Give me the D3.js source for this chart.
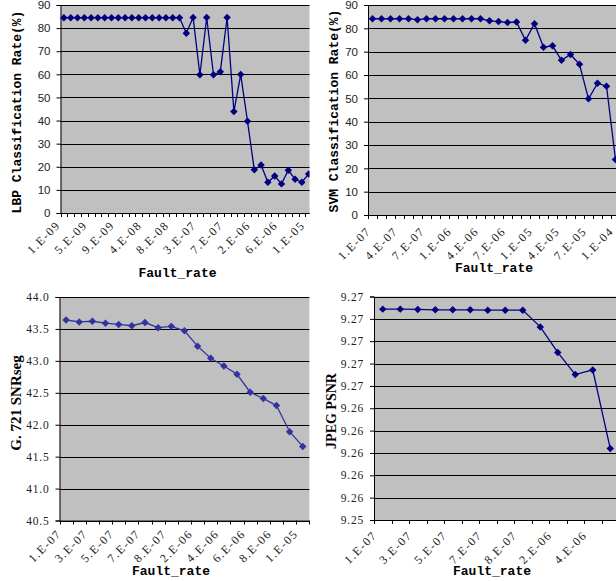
<!DOCTYPE html>
<html>
<head>
<meta charset="utf-8">
<script src="https://cdn.jsdelivr.net/npm/d3@7"></script>
<style>
  body { margin: 0; background: #fff; }
  svg { display: block; }
</style>
</head>
<body>
<div id="chart"></div>
<script>
// categories (fault rates)
var lbpCats = ["1.E-09","2.E-09","3.E-09","4.E-09","5.E-09","6.E-09","7.E-09","8.E-09","9.E-09",
  "1.E-08","2.E-08","3.E-08","4.E-08","5.E-08","6.E-08","7.E-08","8.E-08","9.E-08",
  "1.E-07","2.E-07","3.E-07","4.E-07","5.E-07","6.E-07","7.E-07","8.E-07","9.E-07",
  "1.E-06","2.E-06","3.E-06","4.E-06","5.E-06","6.E-06","7.E-06","8.E-06","9.E-06",
  "1.E-05"];
var svmCats = ["1.E-07","2.E-07","3.E-07","4.E-07","5.E-07","6.E-07","7.E-07","8.E-07","9.E-07",
  "1.E-06","2.E-06","3.E-06","4.E-06","5.E-06","6.E-06","7.E-06","8.E-06","9.E-06",
  "1.E-05","2.E-05","3.E-05","4.E-05","5.E-05","6.E-05","7.E-05","8.E-05","9.E-05",
  "1.E-04"];
var codecCats = ["1.E-07","2.E-07","3.E-07","4.E-07","5.E-07","6.E-07","7.E-07","7.E-07","8.E-07",
  "1.E-06","2.E-06","3.E-06","4.E-06","5.E-06","6.E-06","7.E-06","8.E-06","9.E-06","1.E-05"];

// series values
var lbpRate = [84.5,84.5,84.5,84.5,84.5,84.5,84.5,84.5,84.5,84.5,84.5,84.5,84.5,84.5,84.5,84.5,84.5,84.5,
  77.8,84.6,59.8,84.6,59.8,61.1,84.6,43.9,59.9,39.7,18.7,20.8,13.3,16.0,12.6,18.5,14.6,13.3,16.9];
var svmRate = [84.1,84.1,84.1,84.1,84.1,83.7,84.1,84.1,84.1,84.1,84.1,84.1,84.1,83.2,82.9,82.5,82.7,
  74.9,82.0,71.9,72.5,66.3,68.8,64.6,49.8,56.5,55.2,23.8];
var g721Snr = [43.64,43.61,43.62,43.59,43.57,43.55,43.60,43.52,43.54,43.47,43.23,43.04,42.92,42.79,
  42.51,42.41,42.30,41.89,41.66];
var jpegPsnr = [9.27287,9.27287,9.27284,9.27281,9.27281,9.27281,9.27278,9.27278,9.27278,9.27128,
  9.26899,9.26701,9.26743,9.26039];

// y ticks
var rateTicks = d3.range(0, 91, 10);
var snrTicks = d3.range(40.5, 44.01, 0.5);
var psnrTicks = d3.range(0, 11).map(function(i) { return 9.254 + i * 0.002; });

var svg = d3.select("#chart").append("svg")
  .attr("width", 616)
  .attr("height", 581);

var panels = [
  { id: "p1", clip: [0, 0, 309.5, 290], left: 60.5, top: 5, bottom: 213, band: 6.8,
    cats: lbpCats, values: lbpRate, yDomain: [0, 90], ticks: rateTicks, fmt: d3.format("d"),
    tickFont: "Liberation Sans", every: 4, color: "#000080", lab: [-6, 10],
    yTitle: "LBP Classification Rate(%)", yTitleFont: "Liberation Mono", yTitleSize: 13, yx: 17, yy: 112,
    xx: 177.5, xy: 277 },
  { id: "p2", clip: [309.5, 0, 306.5, 290], left: 368, top: 5, bottom: 215, band: 9,
    cats: svmCats, values: svmRate, yDomain: [0, 90], ticks: rateTicks, fmt: d3.format("d"),
    tickFont: "Liberation Sans", every: 3, color: "#000080", lab: [-4, 14],
    yTitle: "SVM Classification Rate(%)", yTitleFont: "Liberation Mono", yTitleSize: 13, yx: 334, yy: 111,
    xx: 494, xy: 272 },
  { id: "p3", clip: [0, 290, 310, 291], left: 59.5, top: 297, bottom: 520.5, band: 13.15,
    cats: codecCats, values: g721Snr, yDomain: [40.5, 44], ticks: snrTicks, fmt: d3.format(".1f"),
    tickFont: "Liberation Serif", every: 2, color: "#3333a0", lab: [-7, 11],
    yTitle: "G. 721 SNRseg", yTitleFont: "Liberation Serif", yTitleSize: 15, yx: 16, yy: 403,
    xx: 171, xy: 575 },
  { id: "p4", clip: [310, 290, 306, 291], left: 374, top: 296.5, bottom: 520, band: 17.5,
    cats: codecCats, values: jpegPsnr, yDomain: [9.254, 9.274], ticks: psnrTicks, fmt: d3.format(".2f"),
    tickFont: "Liberation Serif", every: 2, color: "#000080", lab: [-8, 13],
    yTitle: "JPEG PSNR", yTitleFont: "Liberation Serif", yTitleSize: 14, yx: 331, yy: 411,
    xx: 492, xy: 575 }
];

var defs = svg.append("defs");
var diamond = d3.symbol().type(d3.symbolSquare).size(28);

panels.forEach(function(p) {
  defs.append("clipPath").attr("id", "clip-" + p.id)
    .append("rect")
    .attr("x", p.clip[0]).attr("y", p.clip[1])
    .attr("width", p.clip[2]).attr("height", p.clip[3]);

  var g = svg.append("g").attr("clip-path", "url(#clip-" + p.id + ")");
  var clipRight = p.clip[0] + p.clip[2];

  var n = p.cats.length;
  var xScale = d3.scaleBand()
    .domain(d3.range(n))
    .range([p.left, p.left + n * p.band]);

  var yScale = d3.scaleLinear()
    .domain(p.yDomain)
    .range([p.bottom, p.top]);

  // plot area
  g.append("rect")
    .attr("x", p.left).attr("y", p.top)
    .attr("width", n * p.band).attr("height", p.bottom - p.top)
    .attr("fill", "#c0c0c0");

  // grid lines
  g.append("g").selectAll("line")
    .data(p.ticks)
    .enter().append("line")
    .attr("x1", p.left).attr("x2", p.left + n * p.band)
    .attr("y1", function(d) { return Math.round(yScale(d)) + 0.5; })
    .attr("y2", function(d) { return Math.round(yScale(d)) + 0.5; })
    .attr("stroke", "#000").attr("stroke-width", 1);

  // y axis
  var leftAxis = d3.axisLeft(yScale)
    .tickValues(p.ticks)
    .tickFormat(p.fmt)
    .tickSize(4)
    .tickPadding(6);

  var yAxis = g.append("g")
    .attr("transform", "translate(" + p.left + ",0)")
    .call(leftAxis);
  yAxis.select(".domain").attr("stroke", "#000");
  yAxis.selectAll("text")
    .attr("font-family", p.tickFont)
    .attr("font-size", "11.5px")
    .attr("letter-spacing", p.tickFont === "Liberation Serif" ? "0.8px" : "0px")
    .attr("fill", "#222");

  // x axis: ticks on category boundaries
  var axisY = p.bottom;
  g.append("line")
    .attr("x1", p.left).attr("x2", p.left + n * p.band)
    .attr("y1", axisY + 0.5).attr("y2", axisY + 0.5)
    .attr("stroke", "#000");

  g.append("g").selectAll("line")
    .data(d3.range(n + 1))
    .enter().append("line")
    .attr("x1", function(i) { return Math.round(p.left + i * p.band) + 0.5; })
    .attr("x2", function(i) { return Math.round(p.left + i * p.band) + 0.5; })
    .attr("y1", axisY).attr("y2", axisY + 4)
    .attr("stroke", "#000");

  // rotated category labels, only those whose tick lies inside the panel
  var labelIdx = d3.range(0, n, p.every).filter(function(i) {
    return xScale(i) + xScale.bandwidth() / 2 < clipRight;
  });

  g.append("g").selectAll("text")
    .data(labelIdx)
    .enter().append("text")
    .attr("transform", function(i) {
      var cx = xScale(i) + xScale.bandwidth() / 2;
      return "translate(" + (cx + p.lab[0]) + "," + (axisY + p.lab[1]) + ") rotate(-45)";
    })
    .attr("text-anchor", "end")
    .attr("dy", "0.35em")
    .attr("font-family", "Liberation Serif")
    .attr("font-size", "12px")
    .attr("letter-spacing", "1.4px")
    .attr("fill", "#222")
    .text(function(i) { return p.cats[i]; });

  // series line
  var line = d3.line()
    .x(function(d, i) { return xScale(i) + xScale.bandwidth() / 2; })
    .y(function(d) { return yScale(d); });

  g.append("path")
    .datum(p.values)
    .attr("d", line)
    .attr("fill", "none")
    .attr("stroke", p.color)
    .attr("stroke-width", 1.3);

  g.append("g").selectAll("path")
    .data(p.values)
    .enter().append("path")
    .attr("d", diamond)
    .attr("transform", function(d, i) {
      return "translate(" + (xScale(i) + xScale.bandwidth() / 2) + "," + yScale(d) + ") rotate(45)";
    })
    .attr("fill", p.color);

  // axis titles
  g.append("text")
    .attr("transform", "translate(" + p.yx + "," + p.yy + ") rotate(-90)")
    .attr("text-anchor", "middle")
    .attr("dominant-baseline", "central")
    .attr("font-family", p.yTitleFont)
    .attr("font-weight", "bold")
    .attr("font-size", p.yTitleSize + "px")
    .text(p.yTitle);

  g.append("text")
    .attr("x", p.xx).attr("y", p.xy)
    .attr("text-anchor", "middle")
    .attr("font-family", "Liberation Mono")
    .attr("font-weight", "bold")
    .attr("font-size", "13px")
    .text("Fault_rate");
});
</script>
</body>
</html>
